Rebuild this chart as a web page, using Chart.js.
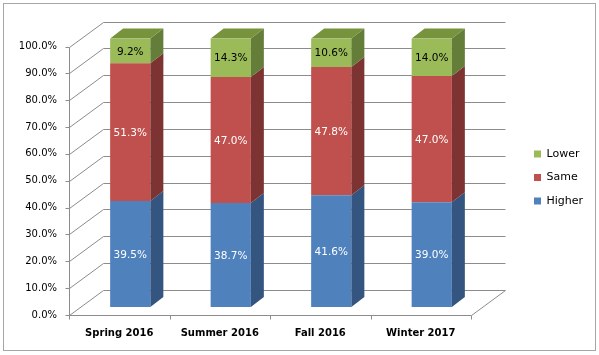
<!DOCTYPE html>
<html><head><meta charset="utf-8">
<script src="https://cdn.jsdelivr.net/npm/chart.js@4/dist/chart.umd.min.js"></script>
<style>html,body{margin:0;padding:0;background:#fff}canvas{display:block}</style>
</head><body>
<canvas id="c" width="599" height="355"></canvas>
<script>
// ---- data ----
const categories = ['Spring 2016', 'Summer 2016', 'Fall 2016', 'Winter 2017'];
const higher = [39.5, 38.7, 41.6, 39.0];
const same   = [51.3, 47.0, 47.8, 47.0];
const lower  = [9.2, 14.3, 10.6, 14.0];
const seriesNames = ['Higher', 'Same', 'Lower'];
const yTickValues = [0, 10, 20, 30, 40, 50, 60, 70, 80, 90, 100];

// ---- styles ----
const frontColors = ['#4F81BD', '#C0504D', '#9BBB59'];
const sideColors  = ['#34557F', '#7D3331', '#647D38'];
const topColors   = ['#4471A8', '#A9403D', '#77933C'];
const labelColors = ['#ffffff', '#ffffff', '#000000'];
const FRONT_DX = -11, FRONT_DY = 8;   // bar plane -> front plane of the box
const BACK_DX = 34, BACK_DY = -25;    // front plane -> back wall
const BAR_DX = 13, BAR_DY = -10;      // bar depth
const GRID = '#8c8c8c';

Chart.defaults.font.family = 'DejaVu Sans';
Chart.defaults.color = '#000';

function poly(ctx, pts) {
  ctx.beginPath();
  ctx.moveTo(pts[0][0], pts[0][1]);
  for (let i = 1; i < pts.length; i++) ctx.lineTo(pts[i][0], pts[i][1]);
  ctx.closePath();
  ctx.fill();
}
function seg(ctx, x1, y1, x2, y2) {
  ctx.beginPath(); ctx.moveTo(x1, y1); ctx.lineTo(x2, y2); ctx.stroke();
}

const threeD = {
  id: 'threeD',
  beforeInit(chart) {
    const origFit = chart.legend.fit;
    chart.legend.fit = function () { origFit.call(this); this.width = 117; };
  },
  afterLayout(chart) {
    const lg = chart.legend;
    lg.left = 521.4; lg.right = 599;
    lg.top = 135.8; lg.bottom = 240;
  },
  beforeDraw(chart) {
    const ctx = chart.ctx;
    ctx.save();
    ctx.fillStyle = '#fff';
    ctx.fillRect(0, 0, chart.width, chart.height);
    ctx.strokeStyle = '#a6a6a6';
    ctx.lineWidth = 1;
    ctx.strokeRect(3.5, 3.5, 592, 347);
    ctx.restore();
  },
  beforeDatasetsDraw(chart) {
    const ctx = chart.ctx, ys = chart.scales.y, ca = chart.chartArea;
    const fl = Math.round(ca.left + FRONT_DX) + 0.5;
    const fr = Math.round(ca.right + FRONT_DX) + 0.5;
    ctx.save();
    ctx.strokeStyle = GRID;
    ctx.lineWidth = 1;
    let yTop = null, yBot = null;
    ys.ticks.forEach(t => {
      const yf = Math.round(ys.getPixelForValue(t.value) + FRONT_DY) + 0.5;
      const yb = yf + BACK_DY;
      if (yTop === null || yf < yTop) yTop = yf;
      if (yBot === null || yf > yBot) yBot = yf;
      seg(ctx, fl, yf, fl + BACK_DX, yb);
      seg(ctx, fl + BACK_DX, yb, fr + BACK_DX, yb);
      seg(ctx, fl - 4, yf, fl, yf);
    });
    seg(ctx, fl, yTop, fl, yBot);
    seg(ctx, fl, yBot, fr, yBot);
    seg(ctx, fr, yBot, fr + BACK_DX, yBot + BACK_DY);
    const n = categories.length;
    for (let i = 0; i <= n; i++) {
      const x = Math.round(ca.left + FRONT_DX + i * (ca.right - ca.left) / n) + 0.5;
      seg(ctx, x, yBot, x, yBot + 4);
    }
    ctx.restore();
  },
  afterDatasetsDraw(chart) {
    const ctx = chart.ctx;
    const metas = chart.getSortedVisibleDatasetMetas();
    ctx.save();
    metas.forEach((meta, di) => {
      meta.data.forEach(bar => {
        const p = bar.getProps(['x', 'y', 'base', 'width'], true);
        const xl = p.x - p.width / 2, xr = p.x + p.width / 2;
        const top = Math.min(p.y, p.base), bot = Math.max(p.y, p.base);
        ctx.fillStyle = sideColors[meta.index];
        poly(ctx, [[xr, top], [xr + BAR_DX, top + BAR_DY], [xr + BAR_DX, bot + BAR_DY], [xr, bot]]);
        if (di === metas.length - 1) {
          ctx.fillStyle = topColors[meta.index];
          poly(ctx, [[xl, top], [xl + BAR_DX, top + BAR_DY], [xr + BAR_DX, top + BAR_DY], [xr, top]]);
        }
      });
    });
    ctx.font = '10.5px "DejaVu Sans"';
    ctx.textAlign = 'center';
    ctx.textBaseline = 'middle';
    metas.forEach(meta => {
      const vals = chart.data.datasets[meta.index].data;
      meta.data.forEach((bar, j) => {
        const p = bar.getProps(['x', 'y', 'base'], true);
        ctx.fillStyle = labelColors[meta.index];
        ctx.fillText(vals[j].toFixed(1) + '%', p.x, (p.y + p.base) / 2 + 1);
      });
    });
    ctx.restore();
  }
};

new Chart(document.getElementById('c'), {
  type: 'bar',
  data: {
    labels: categories,
    datasets: [
      { label: seriesNames[0], data: higher, backgroundColor: frontColors[0] },
      { label: seriesNames[1], data: same,   backgroundColor: frontColors[1] },
      { label: seriesNames[2], data: lower,  backgroundColor: frontColors[2] }
    ]
  },
  options: {
    responsive: false,
    animation: false,
    devicePixelRatio: 1,
    layout: { padding: { top: 38.5, left: 0, right: 0, bottom: 0 } },
    datasets: { bar: { categoryPercentage: 1, barPercentage: 0.4, borderWidth: 0 } },
    scales: {
      x: {
        stacked: true,
        grid: { display: false, drawTicks: false, tickLength: 0 },
        border: { display: false },
        ticks: { labelOffset: FRONT_DX, padding: 20, font: { size: 10, weight: 'bold' }, maxRotation: 0, autoSkip: false },
        afterFit: s => { s.height = 48; }
      },
      y: {
        stacked: true,
        min: 0, max: 100,
        grid: { display: false, drawTicks: false, tickLength: 0 },
        border: { display: false },
        afterBuildTicks: s => { s.ticks = yTickValues.map(v => ({ value: v })); },
        ticks: { labelOffset: FRONT_DY, padding: 23, font: { size: 10 }, callback: v => Number(v).toFixed(1) + '%' },
        afterFit: s => { s.width = 80; }
      }
    },
    plugins: {
      legend: {
        position: 'right',
        align: 'start',
        reverse: true,
        labels: { boxWidth: 7, boxHeight: 7, padding: 12.6, font: { size: 11 }, color: '#000' }
      },
      tooltip: { enabled: false }
    }
  },
  plugins: [threeD]
});
</script>
</body></html>
